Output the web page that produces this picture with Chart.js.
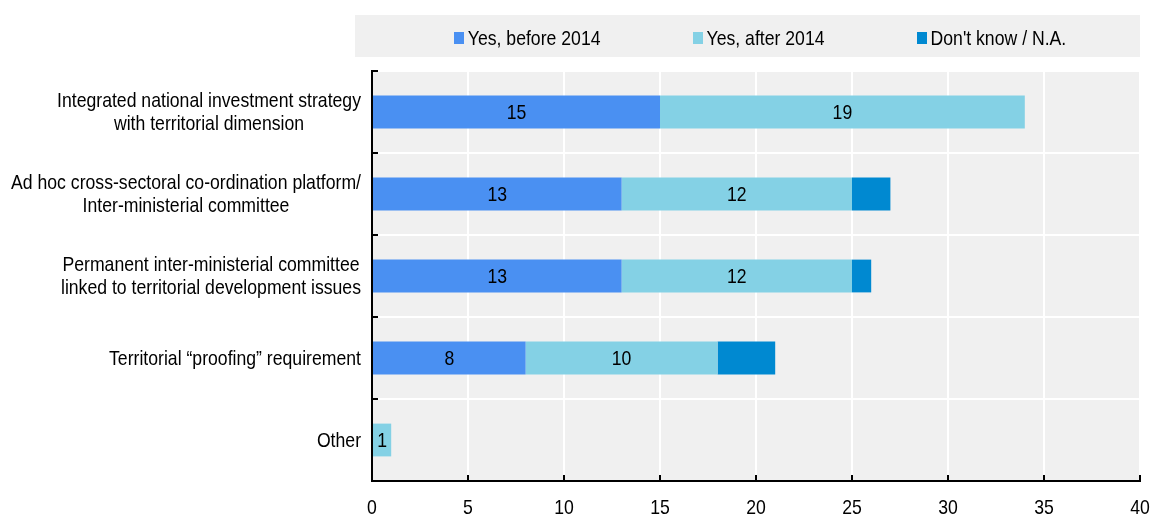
<!DOCTYPE html>
<html>
  <head>
    <meta charset="utf-8">
    <style type="text/css">
      body { margin: 0; background: #ffffff; }
      .chart-container { width: 1152px; height: 515px; }
    </style>
  </head>
  <body>
    <script src="https://cdn.jsdelivr.net/npm/chart.js"></script>
    <div class="chart-container">
      <canvas id="myChart"></canvas>
    </div>
    <script>
      /* datas */
      const categories = [
        ["Integrated national investment strategy", "with territorial dimension"],
        ["Ad hoc cross-sectoral co-ordination platform/", "Inter-ministerial committee"],
        ["Permanent inter-ministerial committee", "linked to territorial development issues"],
        ["Territorial \u201cproofing\u201d requirement"],
        ["Other"]
      ];
      const seriesNames = ["Yes, before 2014", "Yes, after 2014", "Don't know / N.A."];
      const beforeValues = [15, 13, 13, 8, 0];
      const afterValues = [19, 12, 12, 10, 1];
      const unknownValues = [0, 2, 1, 3, 0];
      const xTicks = [0, 5, 10, 15, 20, 25, 30, 35, 40];
      const labelledSeries = [0, 1]; // only these get numbers inside the bars

      const colors = ['#4a90f2', '#84d1e5', '#0089d1'];
      // no Arial Narrow here, so squeeze Liberation Sans horizontally
      const FONT = "21px 'Liberation Sans', Arial, sans-serif";
      const SQUEEZE = 0.84;
      const TEXT_COLOR = '#000';

      function textWidth(ctx, t) {
        return ctx.measureText(t).width * SQUEEZE;
      }
      function drawText(ctx, t, x, y, align) {
        ctx.save();
        ctx.translate(x, y);
        ctx.scale(SQUEEZE, 1);
        ctx.textAlign = align;
        ctx.fillText(t, 0, 0);
        ctx.restore();
      }

      /* grey plot background, legend box, labels, inward ticks */
      const framePlugin = {
        id: 'frame',
        beforeDraw(chart) {
          const { ctx, chartArea: a } = chart;
          ctx.save();
          ctx.fillStyle = '#f0f0f0';
          ctx.fillRect(a.left, a.top, a.right - a.left, a.bottom - a.top);
          // legend box
          ctx.fillRect(a.left - 17, 15, a.right - a.left + 17, 42);
          ctx.restore();
        },
        afterDraw(chart) {
          const { ctx, chartArea: a } = chart;
          const x = chart.scales.x;
          const y = chart.scales.y;
          ctx.save();
          ctx.font = FONT;
          ctx.fillStyle = TEXT_COLOR;

          // legend
          const boxW = 10, boxH = 12, boxGap = 4, itemGap = 92;
          const widths = seriesNames.map(n => boxW + boxGap + textWidth(ctx, n));
          const total = widths.reduce((s, w) => s + w, 0) + itemGap * (widths.length - 1);
          let lx = (a.left + a.right) / 2 + 4 - total / 2;
          const ly = 38;
          ctx.textBaseline = 'middle';
          seriesNames.forEach((n, i) => {
            ctx.fillStyle = colors[i];
            ctx.fillRect(Math.round(lx), ly - boxH / 2, boxW, boxH);
            ctx.fillStyle = TEXT_COLOR;
            drawText(ctx, n, lx + boxW + boxGap, ly + 1, 'left');
            lx += widths[i] + itemGap;
          });

          // category labels: block right aligned, lines centred within the block
          const lineH = 23;
          const rightEdge = a.left - 11;
          categories.forEach((lines, i) => {
            const cy = y.getPixelForValue(i);
            const blockW = Math.max(...lines.map(l => textWidth(ctx, l)));
            const cx = rightEdge - blockW / 2;
            lines.forEach((l, k) => {
              drawText(ctx, l, cx, cy + (k - (lines.length - 1) / 2) * lineH + 1, 'center');
            });
          });

          // x tick labels
          ctx.textBaseline = 'alphabetic';
          xTicks.forEach(v => {
            drawText(ctx, String(v), x.getPixelForValue(v), a.bottom + 33, 'center');
          });

          // inward ticks
          ctx.strokeStyle = '#000';
          ctx.lineWidth = 2;
          ctx.beginPath();
          for (let i = 0; i <= categories.length; i++) {
            const ty = Math.round(y.getPixelForValue(i - 0.5));
            ctx.moveTo(a.left, ty);
            ctx.lineTo(a.left + 6, ty);
          }
          xTicks.forEach(v => {
            const tx = Math.round(x.getPixelForValue(v));
            ctx.moveTo(tx, a.bottom);
            ctx.lineTo(tx, a.bottom - 6);
          });
          ctx.stroke();
          ctx.restore();
        },
        afterDatasetsDraw(chart) {
          const { ctx } = chart;
          ctx.save();
          ctx.font = FONT;
          ctx.fillStyle = TEXT_COLOR;
          ctx.textBaseline = 'middle';
          labelledSeries.forEach(di => {
            const meta = chart.getDatasetMeta(di);
            meta.data.forEach((bar, i) => {
              const v = chart.data.datasets[di].data[i];
              if (!v) return;
              const p = bar.getProps(['x', 'y', 'base'], true);
              drawText(ctx, String(v), (p.x + p.base) / 2, p.y + 1, 'center');
            });
          });
          ctx.restore();
        }
      };

      /* create our chart */
      const myChart = new Chart('myChart', {
        type: 'bar',
        data: {
          labels: categories,
          datasets: [
            { label: seriesNames[0], data: beforeValues, backgroundColor: colors[0] },
            { label: seriesNames[1], data: afterValues, backgroundColor: colors[1] },
            { label: seriesNames[2], data: unknownValues, backgroundColor: colors[2] }
          ]
        },
        options: {
          indexAxis: 'y',
          responsive: true,
          maintainAspectRatio: false,
          animation: false,
          datasets: {
            bar: { categoryPercentage: 1, barPercentage: 0.4, borderWidth: 0 }
          },
          layout: { padding: { top: 71, right: 12, left: 0, bottom: 0 } },
          plugins: {
            legend: { display: false },
            tooltip: { enabled: false }
          },
          scales: {
            x: {
              stacked: true,
              min: xTicks[0],
              max: xTicks[xTicks.length - 1],
              ticks: { stepSize: 5, display: false },
              grid: { color: '#ffffff', lineWidth: 2, drawTicks: false },
              border: { display: true, color: '#000', width: 2 },
              afterFit: (scale) => { scale.height = 34; }
            },
            y: {
              stacked: true,
              ticks: { display: false },
              grid: { color: '#ffffff', lineWidth: 2, drawTicks: false, offset: true },
              border: { display: true, color: '#000', width: 2 },
              afterFit: (scale) => { scale.width = 372; }
            }
          }
        },
        plugins: [framePlugin]
      });
    </script>
  </body>
</html>
